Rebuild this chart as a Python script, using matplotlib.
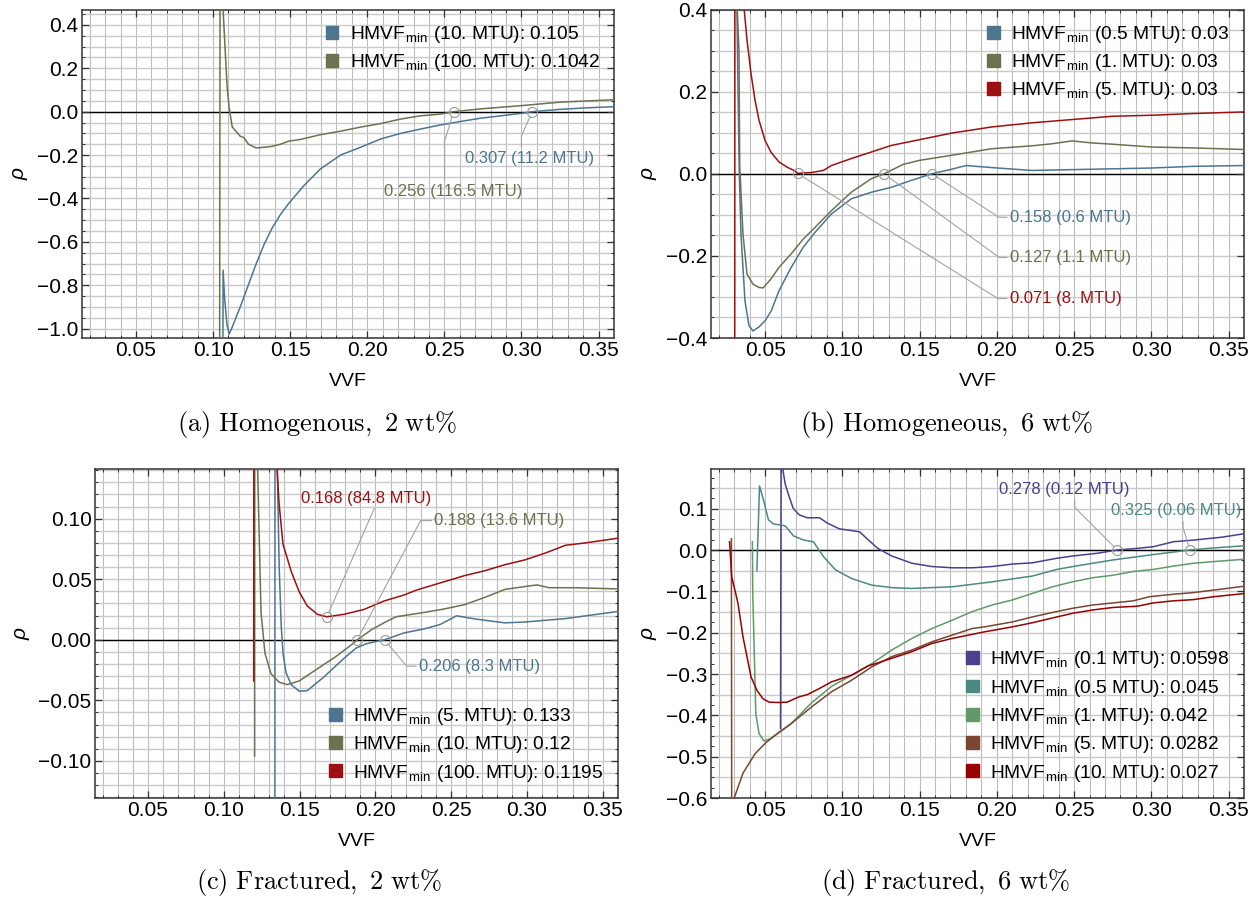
import numpy as np
import matplotlib.pyplot as plt
from matplotlib.patches import Patch
from matplotlib.ticker import FuncFormatter

# (a) homogeneous, 2 wt%
a_x_10 = [0.1063, 0.1065, 0.1075, 0.1090, 0.1104, 0.1120, 0.1176, 0.1228, 0.1280, 0.1332,
          0.1384, 0.1436, 0.1488, 0.1590, 0.1696, 0.1826, 0.1956, 0.2086, 0.2216, 0.2345,
          0.2475, 0.2605, 0.2735, 0.2865, 0.2995, 0.3070, 0.3255, 0.3430, 0.3600]
a_rho_10 = [-1.30, -0.73, -0.86, -0.98, -1.025, -1.00, -0.90, -0.80, -0.70, -0.61,
            -0.535, -0.475, -0.425, -0.34, -0.264, -0.20, -0.164, -0.126, -0.100, -0.080,
            -0.061, -0.045, -0.030, -0.019, -0.008, 0.000, 0.011, 0.018, 0.023]
a_x_100 = [0.1042, 0.1046, 0.1065, 0.1078, 0.1091, 0.1104, 0.1124, 0.1176, 0.1200, 0.1230,
           0.1280, 0.1330, 0.1380, 0.1436, 0.1490, 0.1566, 0.1696, 0.1826, 0.1956, 0.2086,
           0.2216, 0.2345, 0.2475, 0.2560, 0.2735, 0.3000, 0.3250, 0.3600]
a_rho_100 = [-1.5, 1.0, 0.47, 0.29, 0.115, 0.02, -0.07, -0.113, -0.12, -0.15,
             -0.167, -0.164, -0.160, -0.150, -0.136, -0.128, -0.106, -0.090, -0.071, -0.055,
             -0.034, -0.019, -0.011, 0.000, 0.013, 0.028, 0.044, 0.055]

# (b) homogeneous, 6 wt%
b_x_05 = [0.0300, 0.0318, 0.0325, 0.0333, 0.0344, 0.0370, 0.0396, 0.0422, 0.0461, 0.0500,
          0.0540, 0.0590, 0.0669, 0.0747, 0.0825, 0.0929, 0.1058, 0.1188, 0.1318, 0.1448,
          0.1580, 0.1708, 0.1800, 0.1968, 0.2227, 0.2487, 0.2747, 0.3006, 0.3266, 0.3604]
b_rho_05 = [2.0, 0.40, 0.20, 0.0, -0.147, -0.31, -0.37, -0.383, -0.373, -0.358,
            -0.334, -0.285, -0.228, -0.179, -0.142, -0.098, -0.061, -0.045, -0.033, -0.016,
            0.000, 0.011, 0.020, 0.015, 0.008, 0.010, 0.012, 0.014, 0.018, 0.020]
b_x_1 = [0.0300, 0.0318, 0.0331, 0.0336, 0.0357, 0.0383, 0.0422, 0.0461, 0.0487, 0.0539,
         0.0590, 0.0669, 0.0747, 0.0825, 0.0929, 0.1058, 0.1188, 0.1270, 0.1396, 0.1500,
         0.1708, 0.1968, 0.2227, 0.2357, 0.2487, 0.2617, 0.2747, 0.3006, 0.3266, 0.3604]
b_rho_1 = [2.0, 0.42, 0.30, 0.02, -0.147, -0.244, -0.269, -0.277, -0.278, -0.256,
           -0.228, -0.195, -0.159, -0.130, -0.090, -0.045, -0.012, 0.000, 0.023, 0.0326,
           0.045, 0.061, 0.068, 0.073, 0.080, 0.075, 0.072, 0.065, 0.063, 0.059]
b_x_5 = [0.0303, 0.0306, 0.0340, 0.0365, 0.0383, 0.0409, 0.0435, 0.0461, 0.0500, 0.0539,
         0.0591, 0.0643, 0.0695, 0.0710, 0.0750, 0.0800, 0.0877, 0.0929, 0.1058, 0.1188,
         0.1318, 0.1500, 0.1708, 0.1968, 0.2227, 0.2487, 0.2747, 0.3006, 0.3266, 0.3604]
b_rho_5 = [-1.0, 1.5, 0.9, 0.40, 0.326, 0.244, 0.179, 0.13, 0.081, 0.052,
           0.0285, 0.016, 0.0065, 0.001, 0.002, 0.003, 0.008, 0.020, 0.037, 0.053,
           0.069, 0.083, 0.099, 0.114, 0.124, 0.132, 0.140, 0.1425, 0.1466, 0.1506]

# (c) fractured, 2 wt%
c_x_5 = [0.1336, 0.1338, 0.1350, 0.1365, 0.1378, 0.1391, 0.1410, 0.1444, 0.1497, 0.1550,
         0.1657, 0.1790, 0.1870, 0.1936, 0.2003, 0.2060, 0.2189, 0.2322, 0.2428, 0.2535,
         0.2668, 0.2854, 0.2987, 0.3253, 0.3606]
c_rho_5 = [-0.5, 0.6, 0.16, 0.06, 0.012, -0.012, -0.027, -0.037, -0.0424, -0.042,
           -0.031, -0.0156, -0.007, -0.0034, -0.0014, 0.000, 0.0057, 0.009, 0.0127, 0.0198,
           0.017, 0.014, 0.0147, 0.0175, 0.0235]
c_x_10 = [0.1203, 0.1205, 0.1223, 0.1245, 0.1271, 0.1311, 0.1364, 0.1418, 0.1497, 0.1604,
          0.1737, 0.1843, 0.1880, 0.1976, 0.2056, 0.2136, 0.2322, 0.2455, 0.2588, 0.2721,
          0.2854, 0.2987, 0.3066, 0.3146, 0.3306, 0.3606]
c_rho_10 = [-0.096, 0.6, 0.14, 0.023, -0.011, -0.028, -0.035, -0.037, -0.034, -0.025,
            -0.014, -0.004, 0.000, 0.0085, 0.014, 0.019, 0.0226, 0.0255, 0.029, 0.035,
            0.0416, 0.044, 0.0453, 0.043, 0.043, 0.042]
c_x_100 = [0.1197, 0.1199, 0.1300, 0.1351, 0.1364, 0.1390, 0.1444, 0.1497, 0.1550, 0.1617,
           0.1680, 0.1790, 0.1923, 0.2056, 0.2189, 0.2269, 0.2455, 0.2588, 0.2721, 0.2854,
           0.2987, 0.3120, 0.3253, 0.3386, 0.3606]
c_rho_100 = [-0.034, 0.6, 0.5, 0.141, 0.113, 0.079, 0.0566, 0.0396, 0.028, 0.021,
             0.019, 0.021, 0.025, 0.032, 0.037, 0.041, 0.048, 0.053, 0.057, 0.062,
             0.066, 0.0716, 0.078, 0.080, 0.084]

# (d) fractured, 6 wt%
d_x_01 = [0.0600, 0.0604, 0.0617, 0.0630, 0.0656, 0.0682, 0.0721, 0.0773, 0.0852, 0.0904,
          0.0982, 0.1060, 0.1112, 0.1164, 0.1229, 0.1320, 0.1450, 0.1580, 0.1710, 0.1840,
          0.1970, 0.2100, 0.2230, 0.2388, 0.2492, 0.2648, 0.2780, 0.2909, 0.3013, 0.3143,
          0.3273, 0.3456, 0.3612]
d_rho_01 = [-0.432, 0.30, 0.19, 0.16, 0.129, 0.101, 0.085, 0.078, 0.078, 0.065,
            0.051, 0.047, 0.044, 0.026, 0.004, -0.0145, -0.032, -0.040, -0.043, -0.043,
            -0.040, -0.034, -0.031, -0.020, -0.0145, -0.008, 0.000, 0.004, 0.008, 0.020,
            0.024, 0.031, 0.040]
d_x_05 = [0.0447, 0.0464, 0.0490, 0.0522, 0.0555, 0.0609, 0.0631, 0.0685, 0.0750, 0.0813,
          0.0878, 0.0956, 0.1060, 0.1190, 0.1320, 0.1450, 0.1710, 0.1970, 0.2230, 0.2388,
          0.2492, 0.2753, 0.3013, 0.3250, 0.3404, 0.3612]
d_rho_05 = [-0.05, 0.155, 0.121, 0.0726, 0.063, 0.060, 0.058, 0.034, 0.024, 0.020,
            -0.016, -0.048, -0.069, -0.085, -0.091, -0.093, -0.089, -0.077, -0.063, -0.047,
            -0.040, -0.024, -0.011, 0.000, 0.005, 0.0105]
d_x_1 = [0.0418, 0.0420, 0.0440, 0.0461, 0.0492, 0.0539, 0.0669, 0.0800, 0.0930, 0.1060,
         0.1190, 0.1320, 0.1450, 0.1580, 0.1710, 0.1840, 0.1970, 0.2100, 0.2230, 0.2360,
         0.2490, 0.2622, 0.2753, 0.2883, 0.3013, 0.3143, 0.3273, 0.3404, 0.3612]
d_rho_1 = [0.020, -0.10, -0.396, -0.444, -0.462, -0.456, -0.42, -0.37, -0.33, -0.303,
           -0.275, -0.242, -0.214, -0.19, -0.17, -0.149, -0.133, -0.121, -0.105, -0.089,
           -0.077, -0.067, -0.061, -0.052, -0.047, -0.039, -0.032, -0.028, -0.022]
d_x_5 = [0.0282, 0.0284, 0.0300, 0.0357, 0.0435, 0.0500, 0.0565, 0.0669, 0.0800, 0.0930,
         0.1060, 0.1190, 0.1320, 0.1450, 0.1580, 0.1710, 0.1840, 0.1920, 0.2100, 0.2230,
         0.2360, 0.2490, 0.2622, 0.2753, 0.2883, 0.2987, 0.3143, 0.3273, 0.3404, 0.3612]
d_rho_5 = [0.027, -0.62, -0.60, -0.54, -0.493, -0.468, -0.448, -0.42, -0.38, -0.343,
           -0.315, -0.283, -0.258, -0.242, -0.222, -0.206, -0.19, -0.186, -0.174, -0.162,
           -0.151, -0.141, -0.133, -0.128, -0.123, -0.113, -0.107, -0.103, -0.097, -0.087]
d_x_10 = [0.0270, 0.0284, 0.0310, 0.0325, 0.0357, 0.0383, 0.0409, 0.0448, 0.0487, 0.0526,
          0.0591, 0.0643, 0.0721, 0.0773, 0.0852, 0.0930, 0.1060, 0.1164, 0.1320, 0.1450,
          0.1580, 0.1710, 0.1920, 0.2100, 0.2230, 0.2388, 0.2492, 0.2622, 0.2753, 0.2909,
          0.3013, 0.3143, 0.3273, 0.3404, 0.3612]
d_rho_10 = [0.020, -0.065, -0.105, -0.13, -0.21, -0.258, -0.307, -0.34, -0.36, -0.368,
            -0.369, -0.368, -0.355, -0.350, -0.335, -0.319, -0.303, -0.281, -0.262, -0.246,
            -0.226, -0.214, -0.198, -0.186, -0.176, -0.162, -0.153, -0.145, -0.139, -0.136,
            -0.128, -0.123, -0.120, -0.113, -0.105]

legend_a = ['HMVF$_\\mathregular{min}$ (10. MTU): 0.105',
            'HMVF$_\\mathregular{min}$ (100. MTU): 0.1042']
legend_b = ['HMVF$_\\mathregular{min}$ (0.5 MTU): 0.03',
            'HMVF$_\\mathregular{min}$ (1. MTU): 0.03',
            'HMVF$_\\mathregular{min}$ (5. MTU): 0.03']
legend_c = ['HMVF$_\\mathregular{min}$ (5. MTU): 0.133',
            'HMVF$_\\mathregular{min}$ (10. MTU): 0.12',
            'HMVF$_\\mathregular{min}$ (100. MTU): 0.1195']
legend_d = ['HMVF$_\\mathregular{min}$ (0.1 MTU): 0.0598',
            'HMVF$_\\mathregular{min}$ (0.5 MTU): 0.045',
            'HMVF$_\\mathregular{min}$ (1. MTU): 0.042',
            'HMVF$_\\mathregular{min}$ (5. MTU): 0.0282',
            'HMVF$_\\mathregular{min}$ (10. MTU): 0.027']

plt.rcParams['mathtext.fontset'] = 'cm'
plt.rcParams['font.family'] = ['Liberation Sans', 'DejaVu Sans']

BLUE = '#4e7590'
OLIVE = '#6b7250'
RED = '#9e0f0f'
PURPLE = '#4b3f8e'
TEAL = '#4b8a82'
GREEN = '#5f9a68'
BROWN = '#7a4634'
DRED = '#990000'
GRAY = '#a3a3a3'

W, H = 1260, 899
fig = plt.figure(figsize=(W / 100, H / 100), dpi=100)


def add_panel(left, top, right, bottom):
    return fig.add_axes([left / W, 1 - bottom / H, (right - left) / W, (bottom - top) / H])


def setup(ax, ylim, yticks, yminor, ygrid, ydec):
    ax.set_xlim(0.015, 0.36)
    ax.set_ylim(*ylim)
    for gx in np.arange(2, 37) / 100:
        ax.axvline(gx, color='#bdbdbd', lw=0.8, zorder=0)
    for gy in ygrid:
        ax.axhline(gy, color='#cacaca', lw=1.0, zorder=0)
    ax.axhline(0, color='black', lw=1.0, zorder=1)
    ax.set_xticks(np.arange(1, 8) * 0.05)
    ax.set_xticks(np.arange(2, 36) / 100, minor=True)
    ax.set_yticks(yticks)
    ax.set_yticks(yminor, minor=True)
    ax.xaxis.set_major_formatter(FuncFormatter(lambda v, p: f'{v:.2f}'))
    ax.yaxis.set_major_formatter(
        FuncFormatter(lambda v, p: f'{v:.{ydec}f}'.replace('-', '\u2212')))
    ax.tick_params(which='both', direction='in', top=True, right=True,
                   color='#333333', labelsize=15, pad=2.5)
    ax.tick_params(which='major', length=5, width=0.9)
    ax.tick_params(which='minor', length=2.5, width=0.7)
    for s in ax.spines.values():
        s.set_color('#333333')
        s.set_linewidth(1.1)
    ax.set_xlabel('VVF', fontsize=14, labelpad=9)
    ax.set_ylabel('ρ', fontsize=15, style='italic', labelpad=6)


def curves(ax, series, labels, loc):
    for xs, ys, c in series:
        ax.plot(xs, ys, color=c, lw=1.1, zorder=3)
    handles = [Patch(facecolor=c, edgecolor=c) for _, _, c in series]
    ax.legend(handles, labels, loc=loc, frameon=False, fontsize=13.8,
              handlelength=0.65, handleheight=0.65, handletextpad=0.6,
              labelspacing=0.38, borderaxespad=0.35, borderpad=0.4)


def mark(ax, x0, xs, ys, text, color, pos, ha, relpos, conn):
    y0 = np.interp(x0, xs, ys)
    ax.plot([x0], [y0], 'o', ms=7.2, mfc='none', mec='#999999', mew=0.8, zorder=5)
    ax.annotate(text, xy=(x0, y0), xytext=pos, ha=ha, va='center', color=color,
                fontsize=12, zorder=6,
                arrowprops=dict(arrowstyle='-', color=GRAY, lw=0.8, shrinkA=0,
                                shrinkB=3.6, relpos=relpos, connectionstyle=conn))


# (a)
ax = add_panel(82, 9.5, 614, 338)
setup(ax, (-1.043, 0.471), [-1.0, -0.8, -0.6, -0.4, -0.2, 0.0, 0.2, 0.4],
      np.arange(-20, 10) * 0.05, np.arange(-20, 10) * 0.05, 1)
curves(ax, [(a_x_10, a_rho_10, BLUE), (a_x_100, a_rho_100, OLIVE)], legend_a, 'upper right')
mark(ax, 0.307, a_x_10, a_rho_10, '0.307 (11.2 MTU)', BLUE, (0.305, -0.214), 'center',
     (0.44, 1), 'angle,angleA=90,angleB=66,rad=0')
mark(ax, 0.256, a_x_100, a_rho_100, '0.256 (116.5 MTU)', OLIVE, (0.256, -0.367), 'center',
     (0.435, 1), 'angle,angleA=90,angleB=73,rad=0')

# (b)
ax = add_panel(711, 9.5, 1244, 338)
setup(ax, (-0.4, 0.4), [-0.4, -0.2, 0.0, 0.2, 0.4],
      np.arange(-8, 9) * 0.05, np.arange(-8, 9) * 0.05, 1)
curves(ax, [(b_x_05, b_rho_05, BLUE), (b_x_1, b_rho_1, OLIVE), (b_x_5, b_rho_5, RED)],
       legend_b, 'upper right')
mark(ax, 0.158, b_x_05, b_rho_05, '0.158 (0.6 MTU)', BLUE, (0.2084, -0.106), 'left',
     (0, 0.5), 'angle,angleA=0,angleB=-33,rad=0')
mark(ax, 0.127, b_x_1, b_rho_1, '0.127 (1.1 MTU)', OLIVE, (0.2084, -0.204), 'left',
     (0, 0.5), 'angle,angleA=0,angleB=-36,rad=0')
mark(ax, 0.071, b_x_5, b_rho_5, '0.071 (8. MTU)', RED, (0.2084, -0.304), 'left',
     (0, 0.5), 'angle,angleA=0,angleB=-32,rad=0')

# (c)
ax = add_panel(95, 469, 618, 798)
setup(ax, (-0.1306, 0.141), [-0.10, -0.05, 0.0, 0.05, 0.10],
      np.arange(-13, 15) * 0.01, np.arange(-13, 15) * 0.01, 2)
curves(ax, [(c_x_5, c_rho_5, BLUE), (c_x_10, c_rho_10, OLIVE), (c_x_100, c_rho_100, RED)],
       legend_c, 'lower right')
mark(ax, 0.168, c_x_100, c_rho_100, '0.168 (84.8 MTU)', RED, (0.194, 0.117), 'center',
     (0.57, 0), 'arc3,rad=0')
mark(ax, 0.188, c_x_10, c_rho_10, '0.188 (13.6 MTU)', OLIVE, (0.2389, 0.0984), 'left',
     (0, 0.5), 'angle,angleA=0,angleB=62,rad=0')
mark(ax, 0.206, c_x_5, c_rho_5, '0.206 (8.3 MTU)', BLUE, (0.2287, -0.0218), 'left',
     (0, 0.5), 'angle,angleA=0,angleB=-50,rad=0')

# (d)
ax = add_panel(711, 469, 1244, 798)
setup(ax, (-0.6, 0.196), [-0.6, -0.5, -0.4, -0.3, -0.2, -0.1, 0.0, 0.1],
      np.arange(-24, 8) * 0.025, np.arange(-12, 4) * 0.05, 1)
curves(ax, [(d_x_01, d_rho_01, PURPLE), (d_x_05, d_rho_05, TEAL), (d_x_1, d_rho_1, GREEN),
            (d_x_5, d_rho_5, BROWN), (d_x_10, d_rho_10, DRED)], legend_d, 'lower right')
mark(ax, 0.278, d_x_01, d_rho_01, '0.278 (0.12 MTU)', PURPLE, (0.2437, 0.147), 'center',
     (0.58, 0), 'angle,angleA=90,angleB=135,rad=0')
mark(ax, 0.325, d_x_05, d_rho_05, '0.325 (0.06 MTU)', TEAL, (0.3163, 0.0945), 'center',
     (0.55, 0), 'angle,angleA=90,angleB=107,rad=0')

captions = [(317, 424, r'$\mathrm{(a)\ Homogenous,\ 2\ wt\%}$'),
            (946, 424, r'$\mathrm{(b)\ Homogeneous,\ 6\ wt\%}$'),
            (319, 883, r'$\mathrm{(c)\ Fractured,\ 2\ wt\%}$'),
            (946, 883, r'$\mathrm{(d)\ Fractured,\ 6\ wt\%}$')]
for cx, cy, txt in captions:
    fig.text(cx / W, 1 - cy / H, txt, ha='center', va='center', fontsize=19)

fig.savefig('out.png', dpi=100)
